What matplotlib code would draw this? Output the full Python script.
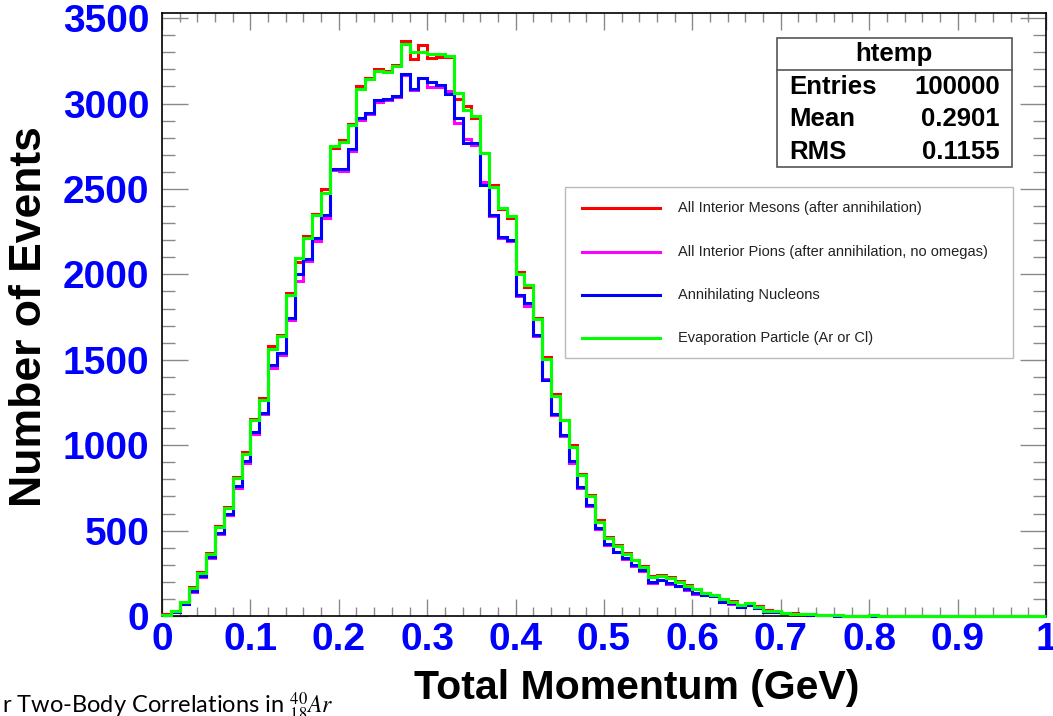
import numpy as np
import matplotlib
matplotlib.use("Agg")
import matplotlib.pyplot as plt
from matplotlib.lines import Line2D
from matplotlib.patches import Rectangle
from matplotlib.ticker import MultipleLocator

plt.rcParams['font.family'] = ['Liberation Sans', 'DejaVu Sans']
plt.rcParams['mathtext.fontset'] = 'stix'

# 100 bins of total momentum, 0 - 1 GeV
edges = np.linspace(0.0, 1.0, 101)

mesons = [9, 30, 84, 168, 258, 366, 526, 638, 815, 958,
          1156, 1278, 1580, 1645, 1892, 2071, 2222, 2352, 2497, 2742,
          2786, 2880, 3100, 3150, 3205, 3190, 3228, 3368, 3259, 3345,
          3269, 3275, 3270, 3025, 2986, 2915, 2712, 2523, 2380, 2330,
          2015, 1925, 1745, 1515, 1300, 1150, 1000, 830, 708, 560,
          462, 415, 368, 330, 290, 236, 242, 226, 204, 180,
          158, 136, 125, 100, 86, 66, 76, 57, 33, 30,
          20, 15, 12, 9, 6, 4, 3, 2, 2, 2,
          3, 1, 1, 0, 1, 0, 0, 0, 0, 0,
          0, 0, 0, 0, 0, 0, 0, 0, 0, 0]

pions = [5, 24, 68, 140, 230, 338, 478, 590, 752, 896,
         1068, 1180, 1450, 1530, 1730, 1960, 2080, 2195, 2330, 2608,
         2605, 2725, 2905, 2940, 3010, 3020, 3040, 3165, 3078, 3150,
         3099, 3095, 3075, 2888, 2790, 2760, 2540, 2340, 2210, 2195,
         1875, 1814, 1640, 1390, 1175, 1055, 898, 748, 645, 508,
         414, 372, 334, 295, 266, 195, 208, 189, 173, 154,
         131, 121, 115, 83, 72, 54, 63, 44, 24, 24,
         15, 12, 10, 7, 5, 3, 2, 2, 1, 2,
         2, 1, 0, 1, 0, 0, 0, 0, 0, 0,
         0, 0, 0, 0, 0, 0, 0, 0, 0, 0]

nucleons = [5, 25, 70, 145, 236, 344, 485, 598, 762, 905,
            1075, 1188, 1471, 1540, 1745, 2005, 2087, 2214, 2350, 2614,
            2614, 2732, 2917, 2947, 3021, 3025, 3044, 3171, 3083, 3148,
            3126, 3107, 3054, 2917, 2767, 2771, 2526, 2350, 2220, 2200,
            1882, 1833, 1647, 1383, 1184, 1061, 905, 754, 651, 514,
            420, 377, 338, 299, 270, 197, 211, 192, 176, 156,
            133, 123, 117, 84, 74, 55, 64, 45, 25, 25,
            16, 12, 10, 7, 5, 3, 2, 2, 1, 2,
            2, 1, 0, 1, 0, 0, 0, 0, 0, 0,
            0, 0, 0, 0, 0, 0, 0, 0, 0, 0]

evaporation = [8, 29, 82, 164, 254, 361, 520, 631, 807, 950,
               1149, 1266, 1565, 1637, 1878, 2097, 2214, 2345, 2478, 2751,
               2775, 2872, 3087, 3142, 3191, 3185, 3220, 3351, 3302, 3302,
               3289, 3289, 3280, 3064, 2960, 2927, 2708, 2511, 2390, 2341,
               2005, 1940, 1739, 1505, 1290, 1145, 991, 823, 700, 553,
               459, 412, 363, 328, 285, 230, 236, 221, 201, 176,
               156, 133, 123, 98, 84, 64, 74, 55, 31, 29,
               19, 14, 12, 9, 6, 4, 3, 2, 2, 2,
               3, 1, 1, 0, 1, 0, 0, 0, 0, 0,
               0, 0, 0, 0, 0, 0, 0, 0, 0, 0]

labels = ["All Interior Mesons (after annihilation)",
          "All Interior Pions (after annihilation, no omegas)",
          "Annihilating Nucleons",
          "Evaporation Particle (Ar or Cl)"]
colors = ["#ff0000", "#ff00ff", "#0000ff", "#00ff00"]

x_ticks = [0, 0.1, 0.2, 0.3, 0.4, 0.5, 0.6, 0.7, 0.8, 0.9, 1.0]
x_ticklabels = ["0", "0.1", "0.2", "0.3", "0.4", "0.5", "0.6", "0.7", "0.8", "0.9", "1"]
y_ticks = [0, 500, 1000, 1500, 2000, 2500, 3000, 3500]

W, H = 1053, 716


def fx(px):
    return px / W


def fy(py):
    return 1 - py / H


fig = plt.figure(figsize=(W / 100, H / 100), dpi=100)
ax = fig.add_axes([fx(162), fy(616), (1046 - 162) / W, (616 - 13) / H])

# histograms drawn as steps, green last so it sits on top
for vals, col in zip([mesons, pions, nucleons, evaporation], colors):
    ax.stairs(vals, edges, color=col, linewidth=2.2, zorder=3, clip_on=False)

ax.set_xlim(0, 1)
ax.set_ylim(0, 3530)
ax.set_xticks(x_ticks)
ax.set_xticklabels(x_ticklabels)
ax.set_yticks(y_ticks)
ax.xaxis.set_minor_locator(MultipleLocator(0.02))
ax.yaxis.set_minor_locator(MultipleLocator(100))

# ROOT style ticks: inside, on all four sides
ax.tick_params(which='both', direction='in', top=True, right=True,
               color='#8a8a8a', width=1)
ax.xaxis.set_tick_params(which='major', length=12.5, pad=4)
ax.xaxis.set_tick_params(which='minor', length=6.5)
ax.yaxis.set_tick_params(which='major', length=19, pad=9)
ax.yaxis.set_tick_params(which='minor', length=9.5)
for lab in ax.get_xticklabels() + ax.get_yticklabels():
    lab.set_color('#0000ff')
    lab.set_fontweight('bold')
    lab.set_fontsize(28)
for sp in ax.spines.values():
    sp.set_color('black')
    sp.set_linewidth(1.2)

fig.text(fx(30), fy(317), "Number of Events", rotation=90, ha='center', va='center',
         fontsize=32, fontweight='bold')
fig.text(fx(637), fy(688), "Total Momentum (GeV)", ha='center', va='center',
         fontsize=29.5, fontweight='bold')

# stats box
fig.add_artist(Rectangle((fx(777), fy(167)), (1012 - 777) / W, (167 - 38) / H,
                         transform=fig.transFigure, facecolor='white',
                         edgecolor='#555555', linewidth=1.2))
fig.add_artist(Line2D([fx(777), fx(1012)], [fy(70), fy(70)], transform=fig.transFigure,
                      color='#555555', linewidth=1.2))
fig.text(fx(894), fy(54), "htemp", ha='center', va='center', fontsize=18.5, fontweight='bold')
stats = [("Entries", "100000"), ("Mean", "0.2901"), ("RMS", "0.1155")]
for (name, val), yy in zip(stats, [87, 119, 152]):
    fig.text(fx(789), fy(yy), name, ha='left', va='center', fontsize=18.5, fontweight='bold')
    fig.text(fx(1000), fy(yy), val, ha='right', va='center', fontsize=18.5, fontweight='bold')

# legend box
fig.add_artist(Rectangle((fx(565), fy(358)), (1013 - 565) / W, (358 - 187) / H,
                         transform=fig.transFigure, facecolor='white',
                         edgecolor='#bbbbbb', linewidth=1.0))
for lab, col, yy in zip(labels, colors, [208, 252, 295, 338]):
    fig.add_artist(Line2D([fx(582), fx(660)], [fy(yy), fy(yy)], transform=fig.transFigure,
                          color=col, linewidth=2.2))
    fig.text(fx(678), fy(yy), lab, ha='left', va='center', fontsize=10.5, color='#222222')

fig.text(fx(2), fy(714), r"r Two-Body Correlations in ${}^{40}_{18}Ar$", ha='left',
         va='baseline', fontsize=17, family=['Lato', 'DejaVu Sans'])

fig.savefig("out.png", dpi=100)
